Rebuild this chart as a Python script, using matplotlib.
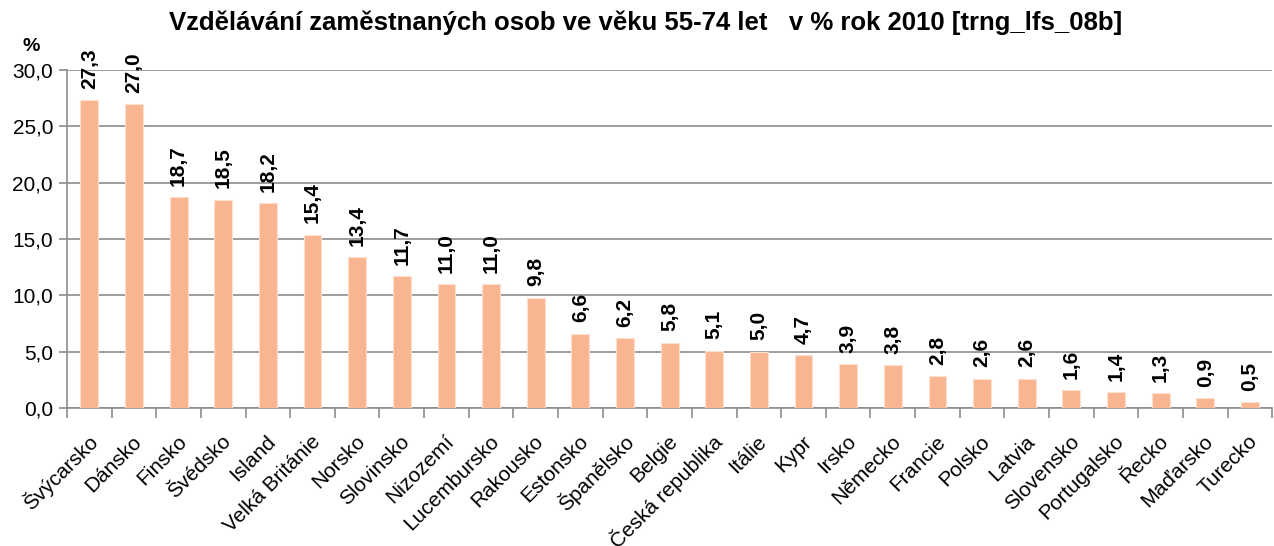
import numpy as np
import matplotlib.pyplot as plt
import matplotlib.transforms as mtransforms
from matplotlib.ticker import FuncFormatter, FixedLocator

plt.rcParams['font.family'] = ['Liberation Sans', 'DejaVu Sans']

# Data
countries = ['Švýcarsko', 'Dánsko', 'Finsko', 'Švédsko', 'Island', 'Velká Británie',
             'Norsko', 'Slovinsko', 'Nizozemí', 'Lucembursko', 'Rakousko', 'Estonsko',
             'Španělsko', 'Belgie', 'Česká republika', 'Itálie', 'Kypr', 'Irsko',
             'Německo', 'Francie', 'Polsko', 'Latvia', 'Slovensko', 'Portugalsko',
             'Řecko', 'Maďarsko', 'Turecko']
values = [27.3, 27.0, 18.7, 18.5, 18.2, 15.4, 13.4, 11.7, 11.0, 11.0, 9.8, 6.6,
          6.2, 5.8, 5.1, 5.0, 4.7, 3.9, 3.8, 2.8, 2.6, 2.6, 1.6, 1.4, 1.3, 0.9, 0.5]

fig = plt.figure(figsize=(12.74, 5.46), dpi=100)
ax = fig.add_axes([0.0526, 0.2527, 0.946, 0.6191])

x = np.arange(len(countries))
ax.bar(x, values, width=0.4, color='#F9B591', edgecolor='#FCE0CF', linewidth=0.8, zorder=3)

for xi, v in zip(x, values):
    ax.text(xi, v + 1.0, f'{v:.1f}'.replace('.', ','), rotation=90, ha='center', va='bottom',
            fontsize=15, fontweight='bold')

ax.set_xlim(-0.5, len(countries) - 0.5)
ax.set_ylim(0, 30)
ax.set_yticks(np.arange(0, 31, 5))
ax.yaxis.set_major_formatter(FuncFormatter(lambda v, p: f'{v:.1f}'.replace('.', ',')))
ax.grid(axis='y', color='#8C8C8C', linewidth=1.2, zorder=0)

ax.set_xticks(x)
ax.set_xticklabels(countries, rotation=45, ha='right', va='center', rotation_mode='anchor',
                   fontsize=15)
ax.tick_params(axis='x', length=0, pad=22)
shift = mtransforms.ScaledTranslation(5 / 100, 0, fig.dpi_scale_trans)
for lbl in ax.get_xticklabels():
    lbl.set_transform(lbl.get_transform() + shift)
ax.xaxis.set_minor_locator(FixedLocator(np.arange(-0.5, len(countries), 1)))
ax.tick_params(axis='x', which='minor', length=7, color='#8C8C8C', width=1.2)
ax.tick_params(axis='y', length=6, color='#8C8C8C', width=1.2, labelsize=15, pad=4)

for side in ['top', 'right']:
    ax.spines[side].set_visible(False)
for side in ['left', 'bottom']:
    ax.spines[side].set_color('#8C8C8C')
    ax.spines[side].set_linewidth(1.2)

fig.text(0.507, 0.958, 'Vzdělávání zaměstnaných osob ve věku 55-74 let   v % rok 2010 [trng_lfs_08b]',
         ha='center', va='center', fontsize=18.5, fontweight='bold')
fig.text(0.018, 0.914, '%', ha='left', va='center', fontsize=14, fontweight='bold')

fig.savefig('out.png', dpi=100)
